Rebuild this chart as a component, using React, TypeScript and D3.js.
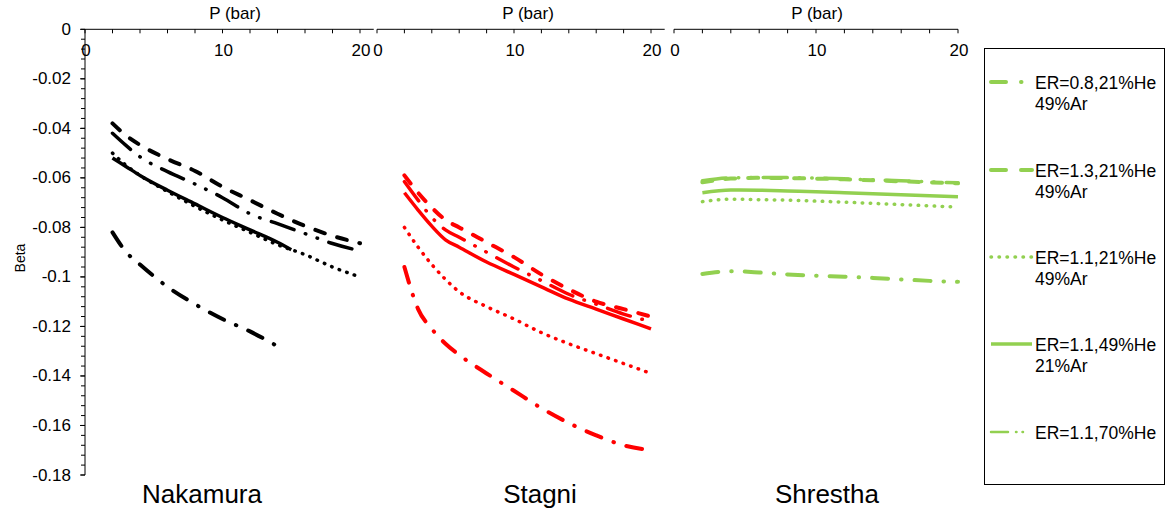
import React from "react";
import * as d3 from "d3";

// ---------- data ----------
const yTickValues = [0, -0.02, -0.04, -0.06, -0.08, -0.1, -0.12, -0.14, -0.16, -0.18];
const yTickLabels = ["0", "-0.02", "-0.04", "-0.06", "-0.08", "-0.1", "-0.12", "-0.14", "-0.16", "-0.18"];
const xTickLabels = ["0", "10", "20"];
const xLabelValues = [0, 10, 20];
const xMinorValues = [0, 2, 4, 6, 8, 10, 12, 14, 16, 18, 20];

const panelNames = ["Nakamura", "Stagni", "Shrestha"];
const panelColors = ["#000000", "#ff0000", "#92d050"];

const seriesLabels = [
  ["ER=0.8,21%He", "49%Ar"],
  ["ER=1.3,21%He", "49%Ar"],
  ["ER=1.1,21%He", "49%Ar"],
  ["ER=1.1,49%He", "21%Ar"],
  ["ER=1.1,70%He"],
];

const pFull = [2, 3, 4, 6, 8, 10, 12, 14, 16, 18, 20];
const pShr = [2, 4, 6, 8, 10, 12, 14, 16, 18, 20];

// Nakamura
const nak08P = [2, 3, 4, 6, 8, 10, 12, 14];
const nak08 = [-0.082, -0.09, -0.095, -0.104, -0.111, -0.117, -0.122, -0.128];
const nak13 = [-0.038, -0.043, -0.0467, -0.0524, -0.0572, -0.0636, -0.069, -0.0745, -0.0794, -0.0834, -0.0864];
const nak11a = [-0.05, -0.055, -0.059, -0.0655, -0.0715, -0.077, -0.082, -0.087, -0.091, -0.096, -0.1];
const nak11bP = [2, 3, 4, 6, 8, 10, 12, 14, 15];
const nak11b = [-0.052, -0.0555, -0.059, -0.065, -0.0705, -0.076, -0.081, -0.086, -0.089];
const nak70 = [-0.042, -0.047, -0.0515, -0.0575, -0.0625, -0.068, -0.0745, -0.0785, -0.0825, -0.0865, -0.0895];

// Stagni
const stgP = [2, 3, 4, 5, 6, 8, 10, 12, 14, 16, 18, 20];
const stg08 = [-0.096, -0.113, -0.121, -0.127, -0.1315, -0.139, -0.146, -0.153, -0.159, -0.164, -0.168, -0.17];
const stg13 = [-0.059, -0.066, -0.072, -0.077, -0.08, -0.086, -0.092, -0.099, -0.105, -0.11, -0.113, -0.116];
const stg11a = [-0.08, -0.088, -0.095, -0.101, -0.106, -0.112, -0.117, -0.1225, -0.127, -0.131, -0.135, -0.139];
const stg11b = [-0.066, -0.073, -0.0795, -0.085, -0.088, -0.094, -0.099, -0.104, -0.109, -0.113, -0.117, -0.121];
const stg70 = [-0.0615, -0.069, -0.076, -0.081, -0.084, -0.09, -0.096, -0.1015, -0.107, -0.111, -0.115, -0.118];

// Shrestha
const shr08 = [-0.0988, -0.0977, -0.0982, -0.099, -0.0995, -0.0999, -0.1004, -0.101, -0.1016, -0.102];
const shr13 = [-0.0618, -0.0603, -0.06, -0.0601, -0.0603, -0.0606, -0.061, -0.0614, -0.0618, -0.0622];
const shr11a = [-0.0696, -0.0686, -0.0688, -0.069, -0.0694, -0.0698, -0.0703, -0.0708, -0.0713, -0.0718];
const shr11b = [-0.066, -0.0649, -0.065, -0.0653, -0.0656, -0.066, -0.0664, -0.0668, -0.0672, -0.0676];
const shr70 = [-0.0612, -0.06, -0.0598, -0.0599, -0.0601, -0.0604, -0.0608, -0.0612, -0.0616, -0.062];

// ---------- styles ----------
const seriesStyles = [
  { w: 4, dash: "16,13,0.5,13", cap: "round" },
  { w: 4, dash: "10,13", cap: "round" },
  { w: 3.5, dash: "0.5,7.5", cap: "round" },
  { w: 3.5, dash: "", cap: "butt" },
  { w: 3.5, dash: "24,12,0.5,12,0.5,12", cap: "round" },
];
const legendWidths = [4, 4, 3.5, 3.5, 2.5];
const legendDash = ["15,15,0.5,40", "15,15,15,20", "0.5,7.5", "", "17,8,0.5,6,0.5,20"];

const FONT = "Arial, 'Liberation Sans', sans-serif";

export default function App() {
  const y = d3.scaleLinear().domain([0, -0.18]).range([29.3, 475]);
  const xs = [
    d3.scaleLinear().domain([0, 21]).range([85, 373.75]),
    d3.scaleLinear().domain([0, 21]).range([377, 664.7]),
    d3.scaleLinear().domain([0, 20]).range([674, 958]),
  ];

  const panels = [
    [
      [nak08P, nak08],
      [pFull, nak13],
      [pFull, nak11a],
      [nak11bP, nak11b],
      [pFull, nak70],
    ],
    [
      [stgP, stg08],
      [stgP, stg13],
      [stgP, stg11a],
      [stgP, stg11b],
      [stgP, stg70],
    ],
    [
      [pShr, shr08],
      [pShr, shr13],
      [pShr, shr11a],
      [pShr, shr11b],
      [pShr, shr70],
    ],
  ];

  const yMinor = d3.range(0, 46).map((i) => -i * 0.004);
  const titleX = [235, 528, 817];
  const nameX = [202, 540, 827];
  const legendY = [82, 170, 257, 344, 432];

  return (
    <svg
      width={1167}
      height={516}
      style={{ position: "absolute", left: 0, top: 0, background: "#fff" }}
      fontFamily={FONT}
    >
      <rect x={0} y={0} width={1167} height={516} fill="#fff" />
      {/* Y axis */}
      <line x1={85} x2={85} y1={y(0)} y2={y(-0.18)} stroke="#000" strokeWidth={1} />
      {yMinor.map((v, i) => (
        <line key={"ym" + i} x1={81} x2={85} y1={y(v)} y2={y(v)} stroke="#000" strokeWidth={1} />
      ))}
      {yTickValues.map((v, i) => (
        <g key={"yt" + i}>
          <line x1={80} x2={85} y1={y(v)} y2={y(v)} stroke="#000" strokeWidth={1} />
          <text x={71} y={y(v)} textAnchor="end" dominantBaseline="central" fontSize={17} fill="#000">
            {yTickLabels[i]}
          </text>
        </g>
      ))}
      <text
        transform={`translate(20,258) rotate(-90)`}
        textAnchor="middle"
        dominantBaseline="central"
        fontSize={14}
        fill="#000"
      >
        Beta
      </text>

      {xs.map((x, pi) => {
        const [d0, d1] = x.domain();
        return (
          <g key={"px" + pi}>
            <line x1={x(d0)} x2={x(d1)} y1={y(0)} y2={y(0)} stroke="#000" strokeWidth={1} />
            {xMinorValues.map((v) => (
              <line key={"xm" + v} x1={x(v)} x2={x(v)} y1={y(0)} y2={y(0) + 4} stroke="#000" strokeWidth={1} />
            ))}
            {xLabelValues.map((v, i) => (
              <text key={"xl" + v} x={x(v) + 1} y={50} textAnchor="middle" dominantBaseline="central" fontSize={17} fill="#000">
                {xTickLabels[i]}
              </text>
            ))}
            <text x={titleX[pi]} y={13} textAnchor="middle" dominantBaseline="central" fontSize={17} fill="#000">
              P (bar)
            </text>
            <text x={nameX[pi]} y={503} textAnchor="middle" fontSize={26} fill="#000">
              {panelNames[pi]}
            </text>
            {panels[pi].map(([ps, vs], si) => {
              const pts = ps.map((p, k) => [p, vs[k]] as [number, number]);
              const line = d3
                .line<[number, number]>()
                .x((d) => x(d[0]))
                .y((d) => y(d[1]))
                .curve(d3.curveMonotoneX);
              const st = seriesStyles[si];
              return (
                <path
                  key={"s" + si}
                  d={line(pts) || ""}
                  fill="none"
                  stroke={panelColors[pi]}
                  strokeWidth={st.w}
                  strokeDasharray={st.dash || undefined}
                  strokeLinecap={st.cap as any}
                />
              );
            })}
          </g>
        );
      })}

      {/* Legend */}
      <rect x={984.5} y={48.5} width={180} height={436} fill="#fff" stroke="#000" strokeWidth={1} />
      {seriesLabels.map((lines, i) => {
        const st = seriesStyles[i];
        return (
          <g key={"lg" + i}>
            <line
              x1={991}
              x2={1032}
              y1={legendY[i]}
              y2={legendY[i]}
              stroke="#92d050"
              strokeWidth={legendWidths[i]}
              strokeDasharray={legendDash[i] || undefined}
              strokeLinecap={st.cap as any}
            />
            {lines.map((t, k) => (
              <text key={k} x={1035} y={legendY[i] + 1 + k * 21} dominantBaseline="central" fontSize={17.5} fill="#000">
                {t}
              </text>
            ))}
          </g>
        );
      })}
    </svg>
  );
}
